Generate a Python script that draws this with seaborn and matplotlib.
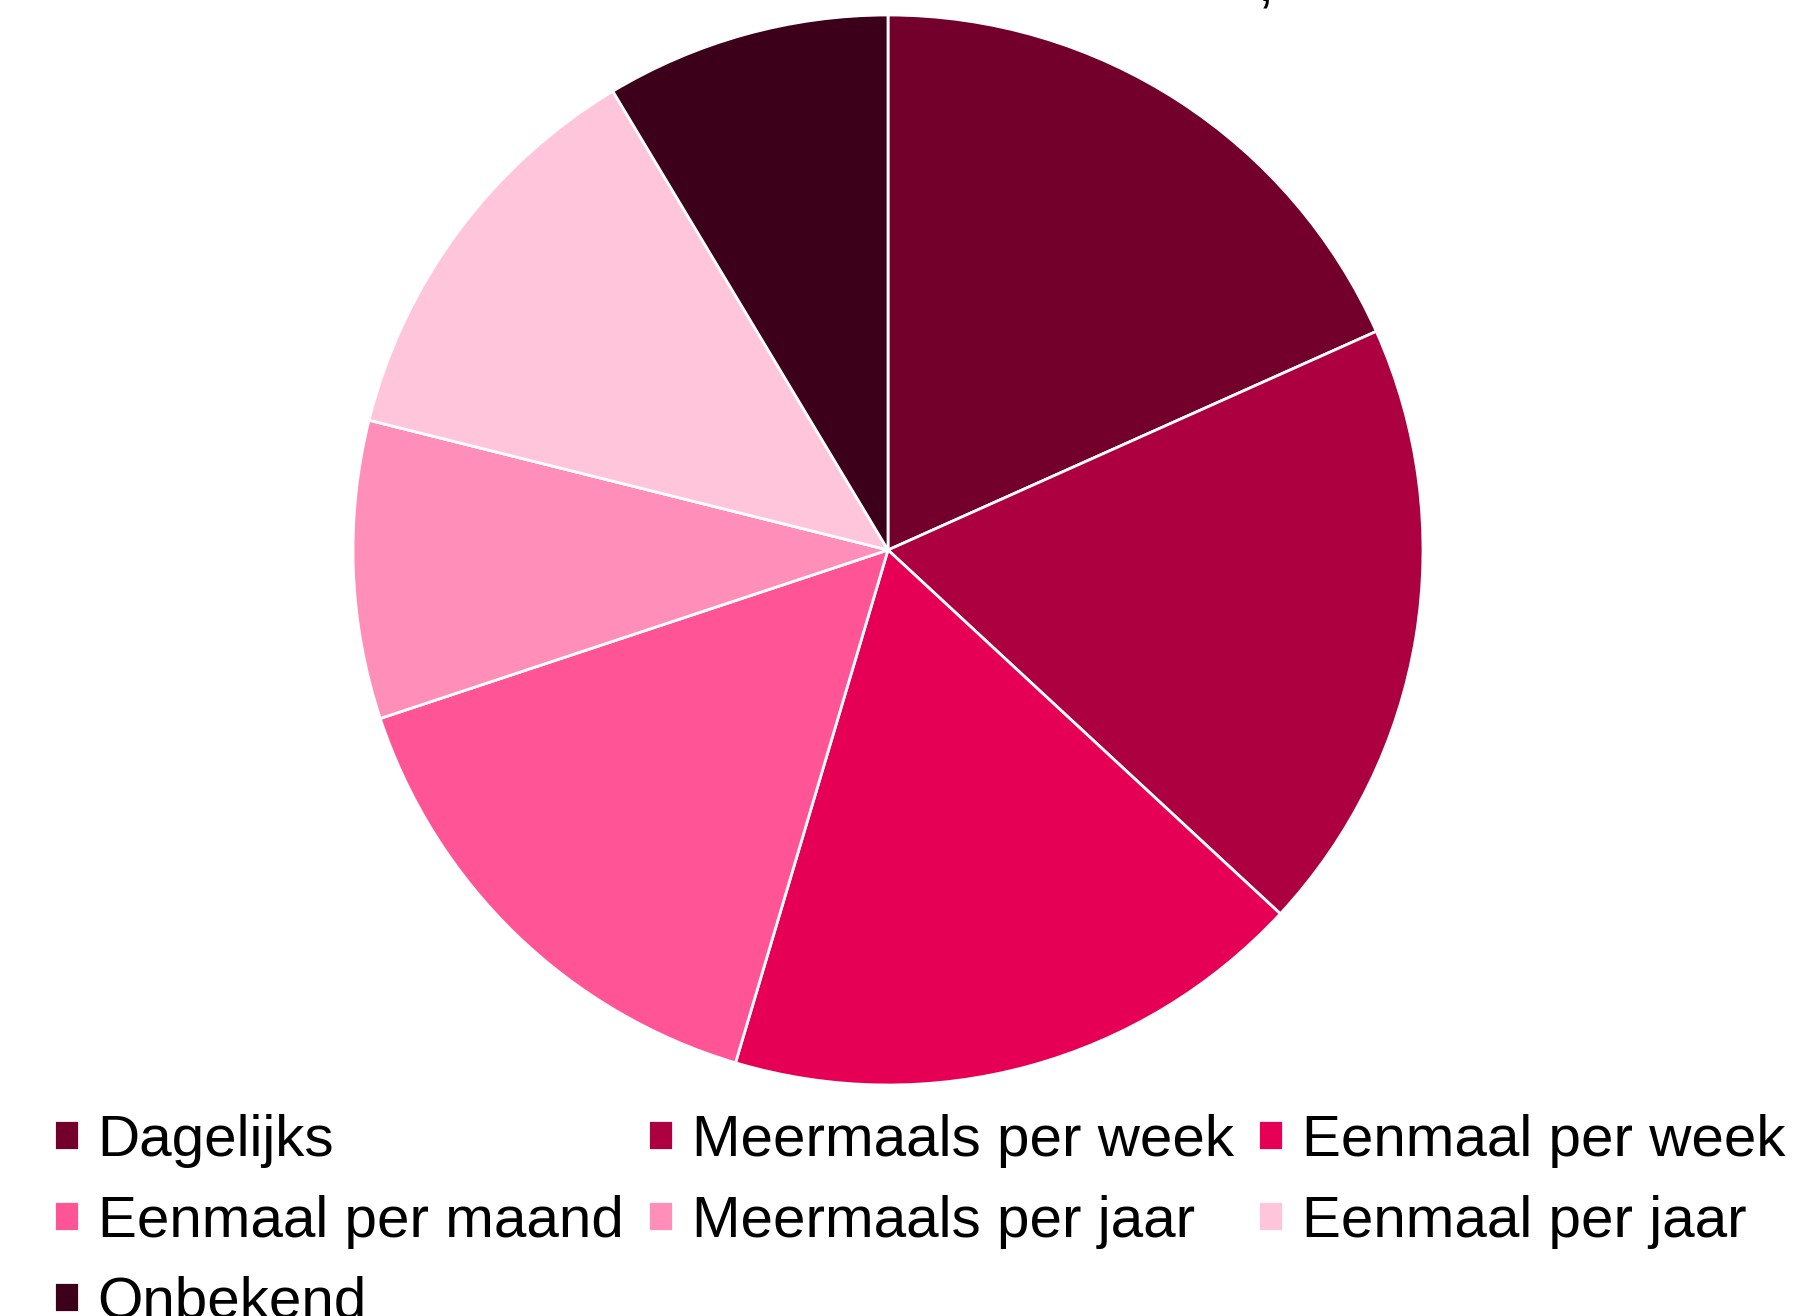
import seaborn as sns
import matplotlib.pyplot as plt

# Data
categories = ['Dagelijks', 'Meermaals per week', 'Eenmaal per week',
              'Eenmaal per maand', 'Meermaals per jaar', 'Eenmaal per jaar',
              'Onbekend']
shares = [18.3, 18.6, 17.7, 15.3, 9.0, 12.5, 8.6]
colors = ['#73002B', '#AD0040', '#E50056', '#FF5596', '#FF8FB8', '#FFC6DB',
          '#3D001A']

sns.set_theme(style='white')
plt.rcParams['font.family'] = ['Liberation Sans', 'DejaVu Sans']

W, H = 1794, 1316
fig = plt.figure(figsize=(W / 100, H / 100), dpi=100)

# pie axes: centre (888, 550) px, radius ~534 px
cx, cy, r = 888, 550, 535
ax = fig.add_axes([(cx - r) / W, (H - cy - r) / H, 2 * r / W, 2 * r / H])
wedges, _ = ax.pie(shares, colors=sns.color_palette(colors), startangle=90,
                   counterclock=False, radius=1,
                   wedgeprops=dict(edgecolor='white', linewidth=2))
ax.set_xlim(-1, 1)
ax.set_ylim(-1, 1)
ax.axis('off')

# title is mostly cut off at the top of the image
fig.text(1258 / W, 1.0, ',', fontsize=42, va='baseline', ha='left', color='black')

# legend filled row by row (matplotlib fills columns, so reorder)
order = [0, 3, 6, 1, 4, 2, 5]
fig.legend([wedges[i] for i in order], [categories[i] for i in order],
           loc='upper left', bbox_to_anchor=(54 / W, 1 - 1114 / H), ncol=3,
           frameon=False, fontsize=42, labelcolor='black',
           borderpad=0, borderaxespad=0,
           handlelength=0.42, handleheight=0.42, handletextpad=0.33,
           columnspacing=0.42, labelspacing=0.46)

fig.savefig('out.png', dpi=100)
